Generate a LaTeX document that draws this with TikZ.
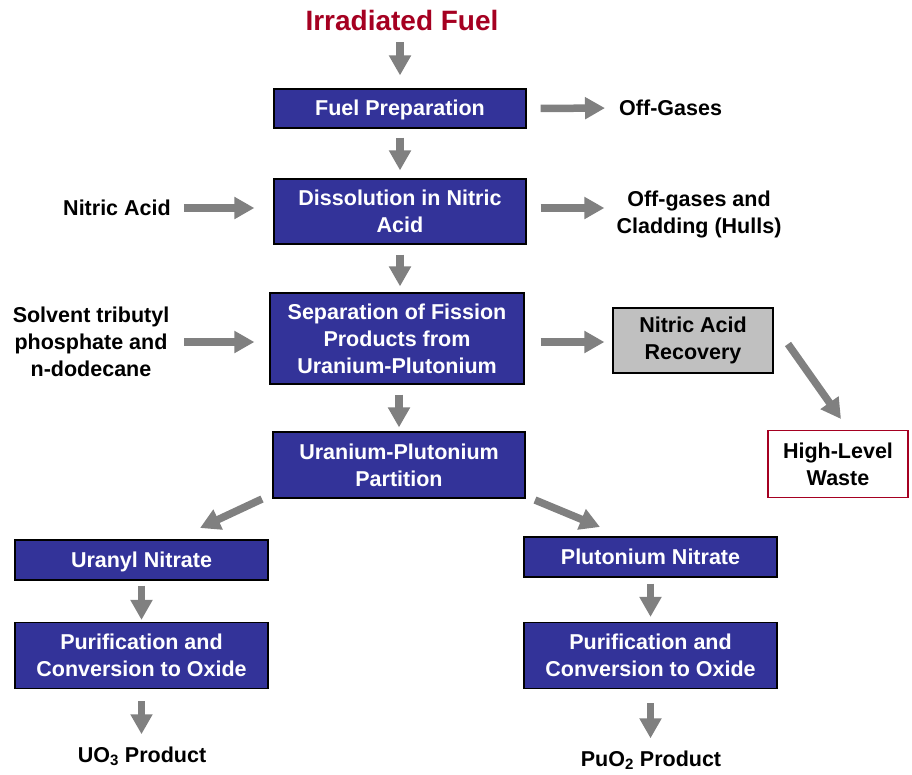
\documentclass[tikz,border=0pt]{standalone}
\usepackage{fontspec}
\setmainfont{Liberation Sans}
\usetikzlibrary{arrows.meta}
\definecolor{boxblue}{HTML}{333399}
\definecolor{flowgray}{HTML}{808080}
\definecolor{fuelred}{HTML}{A50021}
\definecolor{recgray}{HTML}{C0C0C0}

\begin{document}
\begin{tikzpicture}[x=1pt,y=-1pt,
  font=\fontsize{21.5}{27}\selectfont\bfseries,
  stage/.style={draw=black,line width=1.2pt,fill=boxblue,text=white,inner sep=0pt},
  oneline/.style={stage,text height=19.5pt,text depth=4.6pt},
  stack/.style={stage,align=center},
  label/.style={align=center,inner sep=0pt},
  flow/.style={draw=flowgray,line width=7.5pt,-{Triangle[width=21pt,length=20pt]}}]
\useasboundingbox (0,0) rectangle (912,774);
\node[label,text=fuelred,font=\fontsize{28}{32}\selectfont\bfseries] (fuel) at (402,20) {Irradiated Fuel};
\node[oneline,minimum width=252,minimum height=39] (prep) at (400,108.5) {Fuel Preparation};
\node[stack,minimum width=252,minimum height=65] (diss) at (400,211.5) {Dissolution in Nitric\\Acid};
\node[stack,minimum width=254,minimum height=91] (sep) at (397,338.5) {Separation of Fission\\Products from\\Uranium-Plutonium};
\node[stack,minimum width=252,minimum height=66] (part) at (399,465) {Uranium-Plutonium\\Partition};
\node[oneline,minimum width=253,minimum height=40] (uranyl) at (141.5,560) {Uranyl Nitrate};
\node[stack,minimum width=253,minimum height=66] (puru) at (141.5,655.5) {Purification and\\Conversion to Oxide};
\node[oneline,minimum width=253,minimum height=40] (pluto) at (650.5,557) {Plutonium Nitrate};
\node[stack,minimum width=253,minimum height=66] (purpu) at (650.5,655.5) {Purification and\\Conversion to Oxide};
\node[stack,fill=recgray,text=black,minimum width=160,minimum height=65] (recov) at (693,340.5) {Nitric Acid\\Recovery};
\node[stack,draw=fuelred,fill=white,text=black,minimum width=140,minimum height=67] (hlw) at (838,464) {High-Level\\Waste};
\node[label,anchor=west] (offa) at (619,108) {Off-Gases};
\node[label] (offb) at (699,214) {Off-gases and\\Cladding (Hulls)};
\node[label] (nitric) at (117,208) {Nitric Acid};
\node[label] (solvent) at (91,342) {Solvent tributyl\\phosphate and\\n-dodecane};
\node[label] (uo) at (142,756) {UO\textsubscript{3} Product};
\node[label] (puo) at (651,760) {PuO\textsubscript{2} Product};
\coordinate (recout) at (788,344);
\coordinate (hlwin) at (841,419);
\coordinate (uout) at (262,499);
\coordinate (uin) at (200,528);
\coordinate (puout) at (535,500);
\coordinate (puin) at (600,527);
\draw[flow,shorten <=12pt,shorten >=13pt] (fuel.south -| prep.north) -- (prep.north);
\draw[flow,shorten <=9pt,shorten >=8pt] (prep.south) -- (diss.north);
\draw[flow,shorten <=10pt,shorten >=6pt] (diss.south) -- (diss.south |- sep.north);
\draw[flow,shorten <=10pt,shorten >=4pt] (sep.south -| part.north) -- (part.north);
\draw[flow,shorten <=14pt,shorten >=14pt] (prep.east) -- (offa.west);
\draw[flow,shorten <=14pt,shorten >=12pt] (diss.east |- nitric.east) -- (nitric.east -| offb.west);
\draw[flow,shorten <=13pt,shorten >=19pt] (nitric.east) -- (nitric.east -| diss.west);
\draw[flow,shorten <=15pt,shorten >=15pt] (solvent.east) -- (solvent.east -| sep.west);
\draw[flow,shorten <=16pt,shorten >=8pt] (sep.east |- solvent.east) -- (solvent.east -| recov.west);
\draw[flow] (recout) -- (hlwin);
\draw[flow] (uout) -- (uin);
\draw[flow] (puout) -- (puin);
\draw[flow,shorten <=5pt,shorten >=2pt] (uranyl.south) -- (puru.north);
\draw[flow,shorten <=12pt,shorten >=12pt] (puru.south) -- (puru.south |- uo.north);
\draw[flow,shorten <=6pt,shorten >=5pt] (pluto.south) -- (purpu.north);
\draw[flow,shorten <=14pt,shorten >=12pt] (purpu.south) -- (purpu.south |- puo.north);
\end{tikzpicture}
\end{document}
